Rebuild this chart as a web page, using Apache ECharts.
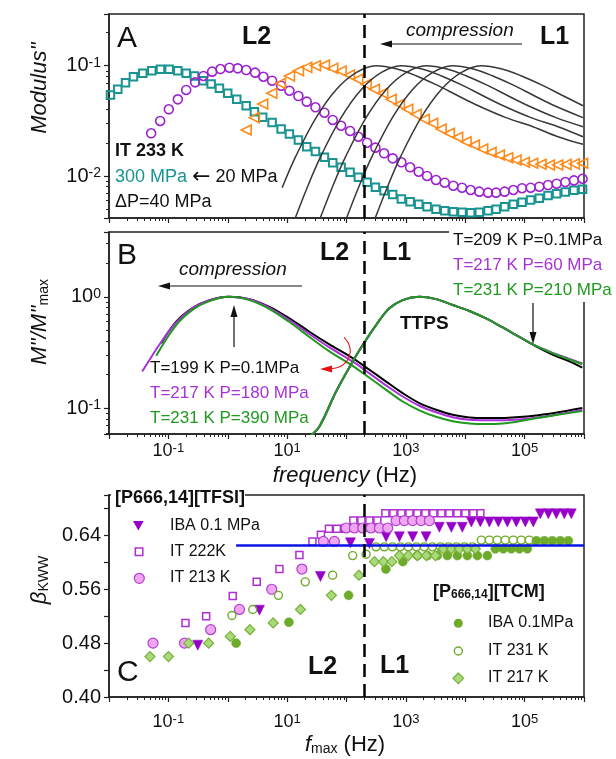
<!DOCTYPE html>
<html>
<head>
<meta charset="utf-8">
<script src="https://cdn.jsdelivr.net/npm/echarts@6/dist/echarts.min.js"></script>
<style>
html, body { margin: 0; padding: 0; background: #fff; }
#chart { width: 616px; height: 759px; }
</style>
</head>
<body>
<div id="chart"></div>
<script>
// all frequencies and log-axis values are stored as log10 exponents
// ---- panel A : Modulus'' vs frequency, IT 233 K
var aTealF = [-1.975,-1.852,-1.722,-1.588,-1.431,-1.279,-1.133,-0.987,-0.841,-0.700,-0.561,-0.421,-0.280,-0.140,0,0.152,0.310,0.449,0.589,0.747,0.899,1.039,1.190,1.330,1.477,1.628,1.768,1.909,2.060,2.200,2.347,2.487,2.633,2.778,2.924,3.071,3.216,3.357,3.508,3.654,3.800,3.946,4.091,4.237,4.384,4.519,4.663,4.810,4.956,5.101,5.247,5.394,5.539,5.685,5.830,5.976];
var aTealM = [-1.266,-1.214,-1.154,-1.100,-1.069,-1.045,-1.033,-1.033,-1.045,-1.069,-1.093,-1.136,-1.166,-1.205,-1.250,-1.305,-1.362,-1.417,-1.468,-1.516,-1.574,-1.619,-1.674,-1.734,-1.779,-1.831,-1.879,-1.921,-1.967,-2.012,-2.057,-2.102,-2.133,-2.169,-2.208,-2.233,-2.257,-2.278,-2.302,-2.315,-2.324,-2.329,-2.333,-2.329,-2.315,-2.302,-2.278,-2.257,-2.239,-2.218,-2.202,-2.178,-2.160,-2.145,-2.130,-2.120];
var aPurpleF = [-1.290,-1.138,-0.993,-0.841,-0.700,-0.549,-0.409,-0.263,-0.123,0.029,0.168,0.310,0.461,0.601,0.747,0.899,1.039,1.190,1.330,1.477,1.628,1.768,1.909,2.060,2.200,2.347,2.487,2.633,2.778,2.924,3.071,3.216,3.357,3.508,3.654,3.800,3.946,4.091,4.237,4.384,4.519,4.663,4.810,4.956,5.101,5.247,5.394,5.539,5.685,5.830,5.976];
var aPurpleM = [-1.613,-1.501,-1.395,-1.305,-1.220,-1.151,-1.093,-1.054,-1.030,-1.018,-1.024,-1.039,-1.063,-1.100,-1.136,-1.181,-1.227,-1.275,-1.326,-1.377,-1.426,-1.492,-1.544,-1.592,-1.644,-1.698,-1.743,-1.794,-1.840,-1.876,-1.921,-1.961,-2.000,-2.036,-2.061,-2.088,-2.106,-2.127,-2.142,-2.151,-2.151,-2.142,-2.127,-2.111,-2.106,-2.097,-2.082,-2.070,-2.055,-2.040,-2.025];
var aOrangeF = [0.310,0.449,0.589,0.741,0.887,1.039,1.190,1.330,1.477,1.628,1.768,1.909,2.049,2.189,2.330,2.470,2.610,2.751,2.891,3.030,3.172,3.311,3.451,3.593,3.732,3.872,4.013,4.153,4.293,4.434,4.574,4.714,4.855,4.995,5.135,5.276,5.416,5.556,5.697,5.837,5.977];
var aOrangeM = [-1.583,-1.471,-1.347,-1.250,-1.160,-1.093,-1.045,-1.015,-1.000,-0.994,-1.024,-1.048,-1.084,-1.123,-1.169,-1.214,-1.250,-1.305,-1.350,-1.395,-1.441,-1.486,-1.522,-1.574,-1.613,-1.649,-1.689,-1.719,-1.755,-1.785,-1.810,-1.834,-1.855,-1.876,-1.885,-1.894,-1.900,-1.900,-1.895,-1.890,-1.885];
var aBlackF = [
    [0.916,1.151,1.488,1.825,2.161,2.498,2.835,3.171,3.508,3.845,4.182,4.687,5.141,5.562,5.983],
    [1.101,1.337,1.572,1.909,2.246,2.582,2.919,3.256,3.592,3.929,4.266,4.603,5.108,5.562,5.983],
    [1.522,1.758,1.993,2.330,2.667,3.003,3.340,3.677,4.013,4.350,4.687,5.024,5.529,5.983],
    [1.965,2.201,2.436,2.773,3.110,3.446,3.783,4.120,4.456,4.793,5.130,5.467,5.983],
    [2.448,2.684,2.919,3.256,3.593,3.929,4.266,4.603,4.939,5.276,5.613,5.983]
];
var aBlackM = [
    [-2.106,-1.816,-1.471,-1.218,-1.063,-1.000,-1.027,-1.091,-1.172,-1.263,-1.354,-1.471,-1.553,-1.644,-1.713],
    [-2.432,-2.106,-1.816,-1.471,-1.218,-1.063,-1.000,-1.027,-1.091,-1.172,-1.263,-1.354,-1.471,-1.553,-1.644],
    [-2.432,-2.106,-1.816,-1.471,-1.218,-1.063,-1.000,-1.027,-1.091,-1.172,-1.263,-1.354,-1.471,-1.553],
    [-2.432,-2.106,-1.816,-1.471,-1.218,-1.063,-1.000,-1.027,-1.091,-1.172,-1.263,-1.354,-1.471],
    [-2.432,-2.106,-1.816,-1.471,-1.218,-1.063,-1.000,-1.027,-1.091,-1.172,-1.263,-1.363]
];

// ---- panel B : normalised M''
var bBlackLowF = [-1.121,-0.869,-0.589,-0.308,0.020,0.365,0.702,1.039,1.375,1.712,2.104,2.386,2.667,2.946,3.227,3.508,3.788,4.069,4.350,4.630,4.911,5.192,5.500,5.971];
var bBlackLowM = [-0.418,-0.224,-0.099,-0.030,0,-0.021,-0.090,-0.194,-0.314,-0.428,-0.552,-0.656,-0.762,-0.866,-0.955,-1.015,-1.060,-1.084,-1.090,-1.090,-1.081,-1.066,-1.045,-1.000];
var bPurpleLowF = [-1.441,-1.121,-0.869,-0.589,-0.308,0.020,0.365,0.702,1.039,1.375,1.712,2.104,2.386,2.667,2.946,3.227,3.508,3.788,4.069,4.350,4.630,4.911,5.192,5.500,5.971];
var bPurpleLowM = [-0.672,-0.406,-0.231,-0.101,-0.032,0,-0.023,-0.099,-0.209,-0.334,-0.455,-0.581,-0.688,-0.796,-0.896,-0.979,-1.038,-1.082,-1.105,-1.109,-1.109,-1.102,-1.087,-1.063,-1.015];
var bGreenLowF = [-1.205,-0.869,-0.589,-0.308,0.020,0.365,0.702,1.039,1.375,1.712,2.104,2.386,2.667,2.946,3.227,3.508,3.788,4.069,4.350,4.630,4.911,5.192,5.500,5.971];
var bGreenLowM = [-0.529,-0.254,-0.115,-0.039,0,-0.030,-0.110,-0.227,-0.361,-0.491,-0.621,-0.728,-0.836,-0.941,-1.020,-1.078,-1.118,-1.138,-1.143,-1.138,-1.118,-1.091,-1.065,-1.027];
var bHighF = [1.375,1.544,1.825,2.104,2.273,2.498,2.722,2.946,3.227,3.508,3.788,4.069,4.350,4.630,4.911,5.192,5.500,5.753,5.971];
var bHighBlackM = [-1.257,-1.165,-0.851,-0.582,-0.433,-0.254,-0.104,-0.030,0,-0.021,-0.074,-0.128,-0.195,-0.276,-0.361,-0.445,-0.527,-0.581,-0.636];
var bHighPurpleM = [-1.257,-1.165,-0.851,-0.582,-0.433,-0.254,-0.104,-0.030,0,-0.021,-0.074,-0.128,-0.195,-0.276,-0.361,-0.442,-0.510,-0.558,-0.600];
var bHighGreenM = [-1.257,-1.165,-0.851,-0.582,-0.433,-0.254,-0.104,-0.030,0,-0.021,-0.074,-0.128,-0.195,-0.276,-0.361,-0.442,-0.513,-0.563,-0.606];

// ---- panel C : beta_KWW vs f_max
var cIbaTfsiF = [-0.505,0.534,1.561,2.066,2.386,2.667,2.891,3.115,3.340,3.564,3.766,3.951,4.103,4.254,4.406,4.557,4.709,4.860,5.012,5.146,5.264,5.399,5.534,5.668,5.786];
var cIbaTfsiB = [0.477,0.529,0.579,0.629,0.628,0.638,0.638,0.638,0.638,0.652,0.652,0.652,0.660,0.660,0.660,0.660,0.660,0.660,0.660,0.660,0.672,0.672,0.672,0.672,0.672];
var cIt222F = [-0.712,-0.364,0.084,0.488,0.870,1.207,1.426,1.569,1.704,1.838,1.973,2.116,2.251,2.386,2.520,2.655,2.790,2.924,3.059,3.194,3.328,3.463,3.598,3.732,3.867,4.002,4.136,4.254];
var cIt222B = [0.510,0.520,0.550,0.571,0.590,0.611,0.631,0.641,0.650,0.650,0.650,0.662,0.662,0.662,0.662,0.673,0.673,0.673,0.673,0.673,0.673,0.673,0.673,0.673,0.673,0.673,0.673,0.673];
var cIt213F = [-1.259,-0.729,-0.288,0.197,0.741,1.249,1.611,1.796,1.993,2.133,2.273,2.414,2.554,2.694,2.835,2.975,3.114,3.256,3.396];
var cIt213B = [0.480,0.480,0.500,0.530,0.560,0.590,0.631,0.631,0.651,0.651,0.651,0.651,0.651,0.651,0.662,0.662,0.662,0.662,0.662];
var cIbaTcmF = [0.141,1.030,2.035,2.663,2.949,3.194,3.362,3.530,3.699,3.867,4.035,4.204,4.372,4.507,4.641,4.776,4.911,5.045,5.197,5.332,5.466,5.601,5.736];
var cIbaTcmB = [0.480,0.511,0.551,0.590,0.601,0.610,0.610,0.610,0.610,0.610,0.610,0.610,0.610,0.620,0.620,0.620,0.620,0.620,0.632,0.632,0.632,0.632,0.632];
var cIt231F = [0.071,0.421,0.854,1.305,1.766,2.104,2.330,2.498,2.638,2.773,2.907,3.042,3.177,3.311,3.446,3.581,3.715,3.850,3.985,4.119,4.271,4.406,4.540,4.675,4.810,4.944,5.079];
var cIt231B = [0.521,0.530,0.551,0.571,0.581,0.610,0.612,0.623,0.623,0.623,0.623,0.623,0.623,0.623,0.623,0.623,0.623,0.623,0.623,0.623,0.633,0.633,0.633,0.633,0.633,0.633,0.633];
var cIt217F = [-1.310,-0.998,-0.657,-0.322,0.042,0.374,0.766,1.224,1.746,2.209,2.470,2.621,2.764,2.891,3.042,3.194,3.345,3.497,3.631,3.766,3.901,4.035,4.170];
var cIt217B = [0.460,0.460,0.480,0.480,0.490,0.500,0.510,0.530,0.551,0.581,0.601,0.601,0.601,0.610,0.610,0.610,0.610,0.610,0.620,0.620,0.620,0.620,0.620];
var cBlueF = [0.141, 6];
var cBlueB = [0.625, 0.625];

var boundaryHz = 200;

var FONT = 'Liberation Sans';
var AX = '#222';
var TEAL = '#1a9393', PURPLE = '#9d22cf', ORANGE = '#ff8a1a';
var BPURPLE = '#a832d8', BGREEN = '#1f9a1f';
var CVIOLET = '#9600c8', CGREEN = '#6fab2b';

function logPairs(fx, fy) {
    return fx.map(function (f, i) { return [Math.pow(10, f), Math.pow(10, fy[i])]; });
}
function linPairs(fx, vy) {
    return fx.map(function (f, i) { return [Math.pow(10, f), vy[i]]; });
}

function decadeLabel(oddOnly) {
    return function (v) {
        var e = Math.log10(v);
        var r = Math.round(e);
        if (Math.abs(e - r) > 1e-6) return '';
        if (oddOnly && Math.abs(r % 2) !== 1) return '';
        return '{b|10}{s|' + r + '}';
    };
}
var supRich = {
    b: { fontSize: 18, fontFamily: FONT, color: '#111' },
    s: { fontSize: 13, fontFamily: FONT, color: '#111', verticalAlign: 'top' }
};
var supRichY = {
    b: { fontSize: 20, fontFamily: FONT, color: '#111' },
    s: { fontSize: 14, fontFamily: FONT, color: '#111', verticalAlign: 'top' }
};

function freqAxis(idx, showLabel, margin) {
    return {
        gridIndex: idx, type: 'log', logBase: 10, min: 0.01, max: 1e6,
        axisLine: { show: true, lineStyle: { color: AX, width: 1.5 } },
        axisTick: { show: true, length: 5, lineStyle: { color: AX, width: 1.2 } },
        minorTick: { show: true, splitNumber: 9, length: 3, lineStyle: { color: AX, width: 1 } },
        splitLine: { show: false },
        axisLabel: { show: showLabel, margin: margin, formatter: decadeLabel(true), rich: supRich }
    };
}
function logYAxis(idx, lo, hi) {
    return {
        gridIndex: idx, type: 'log', logBase: 10, min: Math.pow(10, lo), max: Math.pow(10, hi),
        axisLine: { show: true, lineStyle: { color: AX, width: 1.5 } },
        axisTick: { show: true, length: 5, lineStyle: { color: AX, width: 1.2 } },
        minorTick: { show: true, splitNumber: 9, length: 3, lineStyle: { color: AX, width: 1 } },
        splitLine: { show: false },
        axisLabel: { margin: 8, formatter: decadeLabel(false), rich: supRichY }
    };
}

var dashLine = {
    silent: true, symbol: 'none', animation: false,
    label: { show: false },
    lineStyle: { color: '#000', width: 2.5, type: [13, 7] },
    data: [{ xAxis: boundaryHz }]
};

function curve(name, xi, data, color, width) {
    return {
        name: name, type: 'line', xAxisIndex: xi, yAxisIndex: xi, data: data,
        showSymbol: false, symbol: 'none', smooth: 0.35, clip: true,
        lineStyle: { color: color, width: width }
    };
}
function marks(name, xi, data, symbol, size, rotate, fill, stroke, bw) {
    return {
        name: name, type: 'scatter', xAxisIndex: xi, yAxisIndex: xi, data: data,
        symbol: symbol, symbolSize: size, symbolRotate: rotate,
        itemStyle: { color: fill, borderColor: stroke, borderWidth: bw, opacity: 1 }
    };
}

var series = [];
// panel A
aBlackF.forEach(function (fx, i) {
    series.push(curve('P' + i, 0, logPairs(fx, aBlackM[i]), '#383838', 1.5));
});
var teal = marks('300 MPa', 0, logPairs(aTealF, aTealM), 'rect', 7.5, 0, 'rgba(0,0,0,0)', TEAL, 2);
teal.markLine = dashLine;
series.push(teal);
series.push(marks('purple', 0, logPairs(aPurpleF, aPurpleM), 'circle', 9, 0, 'rgba(0,0,0,0)', PURPLE, 1.6));
series.push(marks('orange', 0, logPairs(aOrangeF, aOrangeM), 'triangle', 10, 90, 'rgba(0,0,0,0)', ORANGE, 1.6));

// panel B
var bb = curve('T=199 K P=0.1MPa', 1, logPairs(bBlackLowF, bBlackLowM), '#000', 2);
bb.markLine = dashLine;
series.push(bb);
series.push(curve('T=217 K P=180 MPa', 1, logPairs(bPurpleLowF, bPurpleLowM), BPURPLE, 2));
series.push(curve('T=231 K P=390 MPa', 1, logPairs(bGreenLowF, bGreenLowM), BGREEN, 2));
series.push(curve('T=209 K P=0.1MPa', 1, logPairs(bHighF, bHighBlackM), '#000', 2));
series.push(curve('T=217 K P=60 MPa', 1, logPairs(bHighF, bHighPurpleM), BPURPLE, 2));
series.push(curve('T=231 K P=210 MPa', 1, logPairs(bHighF, bHighGreenM), BGREEN, 2));

// panel C
series.push(marks('IBA TFSI', 2, linPairs(cIbaTfsiF, cIbaTfsiB), 'triangle', 10, 180, CVIOLET, CVIOLET, 0.5));
series.push(marks('IT 222K', 2, linPairs(cIt222F, cIt222B), 'rect', 7, 0, 'rgba(0,0,0,0)', '#b02ed2', 1.5));
series.push(marks('IT 213 K', 2, linPairs(cIt213F, cIt213B), 'circle', 10, 0, '#f0a6f0', '#b040d0', 1.2));
series.push(marks('IBA TCM', 2, linPairs(cIbaTcmF, cIbaTcmB), 'circle', 9, 0, CGREEN, CGREEN, 0.5));
series.push(marks('IT 231 K', 2, linPairs(cIt231F, cIt231B), 'circle', 8, 0, 'rgba(0,0,0,0)', CGREEN, 1.4));
series.push(marks('IT 217 K', 2, linPairs(cIt217F, cIt217B), 'diamond', 10, 0, '#a9d978', '#76b03a', 1.2));
var blue = curve('fit', 2, linPairs(cBlueF, cBlueB), '#0a14e6', 2.5);
blue.smooth = false;
blue.markLine = dashLine;
series.push(blue);

// ---- annotations
function txt(x, y, s, o) {
    var st = { text: s, fill: '#111', fontSize: 18, fontFamily: FONT,
        align: 'left', verticalAlign: 'middle', textAlign: 'left', textVerticalAlign: 'middle' };
    for (var k in o) st[k] = o[k];
    return { type: 'text', x: x, y: y, z: 100, style: st };
}
function arrow(x1, y1, x2, y2, color) {
    var dx = x2 - x1, dy = y2 - y1, L = Math.sqrt(dx * dx + dy * dy);
    var ux = dx / L, uy = dy / L, hl = 12, hw = 3.5;
    var bx = x2 - ux * hl, by = y2 - uy * hl;
    return [
        { type: 'line', z: 100, shape: { x1: x1, y1: y1, x2: bx, y2: by }, style: { stroke: color, lineWidth: 1.2 } },
        { type: 'polygon', z: 100, shape: { points: [[x2, y2], [bx - uy * hw, by + ux * hw], [bx + uy * hw, by - ux * hw]] }, style: { fill: color } }
    ];
}
var axisNameRich = {
    i: { fontStyle: 'italic', fontSize: 22, fontFamily: FONT, fill: '#111' },
    n: { fontSize: 22, fontFamily: FONT, fill: '#111' },
    s: { fontSize: 14, fontFamily: FONT, fill: '#111', verticalAlign: 'bottom' }
};

var graphics = [
    // white patches where labels break the frame
    { type: 'rect', z: 50, shape: { x: 449, y: 226, width: 167, height: 76 }, style: { fill: '#fff' } },
    { type: 'rect', z: 50, shape: { x: 111, y: 488, width: 134, height: 15 }, style: { fill: '#fff' } },

    // axis names
    { type: 'text', x: 40, y: 88, rotation: Math.PI / 2, z: 100,
      style: { text: "Modulus''", fontStyle: 'italic', fontSize: 22, fontFamily: FONT, fill: '#111',
               align: 'center', verticalAlign: 'middle', textAlign: 'center', textVerticalAlign: 'middle' } },
    { type: 'text', x: 40, y: 322, rotation: Math.PI / 2, z: 100,
      style: { text: "{i|M''/M''}{s|max}", rich: axisNameRich,
               align: 'center', verticalAlign: 'middle', textAlign: 'center', textVerticalAlign: 'middle' } },
    { type: 'text', x: 40, y: 580, rotation: Math.PI / 2, z: 100,
      style: { text: '{i|\u03b2}{s|KWW}', rich: axisNameRich,
               align: 'center', verticalAlign: 'middle', textAlign: 'center', textVerticalAlign: 'middle' } },
    { type: 'text', x: 345, y: 476, z: 100,
      style: { text: '{i|frequency}{n| (Hz)}', rich: axisNameRich,
               align: 'center', verticalAlign: 'middle', textAlign: 'center', textVerticalAlign: 'middle' } },
    { type: 'text', x: 345, y: 745, z: 100,
      style: { text: '{i|f}{s|max}{n| (Hz)}', rich: axisNameRich,
               align: 'center', verticalAlign: 'middle', textAlign: 'center', textVerticalAlign: 'middle' } },

    // panel A
    txt(117, 39, 'A', { fontSize: 30 }),
    txt(242, 37, 'L2', { fontSize: 25, fontWeight: 'bold' }),
    txt(540, 37, 'L1', { fontSize: 25, fontWeight: 'bold' }),
    txt(406, 31, 'compression', { fontSize: 19, fontStyle: 'italic' }),
    txt(115, 151, 'IT 233 K', { fontSize: 18, fontWeight: 'bold' }),
    txt(115, 177, '{t|300 MPa}{k| }{a|\u2190}{k| 20 MPa}', { rich: {
        t: { fontSize: 18, fontFamily: FONT, fill: TEAL },
        a: { fontSize: 22, fontFamily: 'DejaVu Sans', fill: '#111' },
        k: { fontSize: 18, fontFamily: FONT, fill: '#111' } } }),
    txt(115, 202, '\u0394P=40 MPa', { fontSize: 18 }),

    // panel B
    txt(117, 256, 'B', { fontSize: 30 }),
    txt(320, 253, 'L2', { fontSize: 25, fontWeight: 'bold' }),
    txt(382, 253, 'L1', { fontSize: 25, fontWeight: 'bold' }),
    txt(179, 270, 'compression', { fontSize: 19, fontStyle: 'italic' }),
    txt(400, 324, 'TTPS', { fontSize: 19, fontWeight: 'bold' }),
    txt(453, 240, 'T=209 K P=0.1MPa', { fontSize: 17, fill: '#111' }),
    txt(453, 265, 'T=217 K P=60 MPa', { fontSize: 17, fill: BPURPLE }),
    txt(453, 290, 'T=231 K P=210 MPa', { fontSize: 17, fill: BGREEN }),
    txt(150, 368, 'T=199 K P=0.1MPa', { fontSize: 17, fill: '#111' }),
    txt(150, 393, 'T=217 K P=180 MPa', { fontSize: 17, fill: BPURPLE }),
    txt(150, 418, 'T=231 K P=390 MPa', { fontSize: 17, fill: BGREEN }),
    { type: 'bezierCurve', z: 100,
      shape: { x1: 344, y1: 337, cpx1: 356, cpy1: 350, cpx2: 350, cpy2: 367, x2: 331, y2: 369 },
      style: { stroke: '#e81010', lineWidth: 1.1, fill: null } },
    { type: 'polygon', z: 100, shape: { points: [[320, 369], [332, 365.5], [332, 372.5]] }, style: { fill: '#e81010' } },

    // panel C
    txt(115, 498, '[P666,14][TFSI]', { fontSize: 18, fontWeight: 'bold' }),
    { type: 'polygon', z: 100, shape: { points: [[133, 521], [143.6, 521], [138.3, 530.5]] }, style: { fill: CVIOLET } },
    { type: 'rect', z: 100, shape: { x: 135.3, y: 548, width: 7.5, height: 7.5 }, style: { fill: null, stroke: '#b02ed2', lineWidth: 1.5 } },
    { type: 'circle', z: 100, shape: { cx: 139.3, cy: 578.3, r: 5 }, style: { fill: '#f0a6f0', stroke: '#b040d0', lineWidth: 1.2 } },
    txt(170, 526, 'IBA 0.1 MPa', { fontSize: 16 }),
    txt(170, 552, 'IT 222K', { fontSize: 16 }),
    txt(170, 578, 'IT 213 K', { fontSize: 16 }),
    txt(117, 673, 'C', { fontSize: 30 }),
    txt(308, 667, 'L2', { fontSize: 25, fontWeight: 'bold' }),
    txt(380, 666, 'L1', { fontSize: 25, fontWeight: 'bold' }),
    txt(433, 592, '{b|[P}{s|666,14}{b|][TCM]}', { rich: {
        b: { fontSize: 18, fontWeight: 'bold', fontFamily: FONT, fill: '#111' },
        s: { fontSize: 12, fontWeight: 'bold', fontFamily: FONT, fill: '#111', verticalAlign: 'bottom' } } }),
    { type: 'circle', z: 100, shape: { cx: 458.3, cy: 623.3, r: 4.5 }, style: { fill: CGREEN } },
    { type: 'circle', z: 100, shape: { cx: 458.3, cy: 651, r: 4 }, style: { fill: null, stroke: CGREEN, lineWidth: 1.4 } },
    { type: 'polygon', z: 100, shape: { points: [[458.3, 673], [463.6, 678.3], [458.3, 683.6], [453, 678.3]] }, style: { fill: '#a9d978', stroke: '#76b03a', lineWidth: 1.2 } },
    txt(488, 623, 'IBA 0.1MPa', { fontSize: 16 }),
    txt(488, 651, 'IT 231 K', { fontSize: 16 }),
    txt(488, 678, 'IT 217 K', { fontSize: 16 })
];
graphics = graphics.concat(arrow(522, 44, 380, 44, '#111'));
graphics = graphics.concat(arrow(302, 286, 158, 286, '#111'));
graphics = graphics.concat(arrow(234, 347, 234, 305, '#111'));
graphics = graphics.concat(arrow(533, 303, 533, 344, '#111'));

var chart = echarts.init(document.getElementById('chart'), null, { renderer: 'canvas' });
var option = {
    animation: false,
    backgroundColor: '#fff',
    textStyle: { fontFamily: FONT },
    grid: [
        { left: 109, top: 14, width: 475, height: 204, show: true, borderColor: AX, borderWidth: 1.5, containLabel: false },
        { left: 109, top: 232, width: 475, height: 202, show: true, borderColor: AX, borderWidth: 1.5, containLabel: false },
        { left: 109, top: 495, width: 475, height: 202, show: true, borderColor: AX, borderWidth: 1.5, containLabel: false }
    ],
    xAxis: [freqAxis(0, false, 6), freqAxis(1, true, 8), freqAxis(2, true, 16)],
    yAxis: [
        logYAxis(0, -2.381, -0.531),
        logYAxis(1, -1.233, 0.582),
        {
            gridIndex: 2, type: 'value', min: 0.40, max: 0.70, interval: 0.04,
            axisLine: { show: true, lineStyle: { color: AX, width: 1.5 } },
            axisTick: { show: true, length: 5, lineStyle: { color: AX, width: 1.2 } },
            splitLine: { show: false },
            axisLabel: {
                margin: 8, fontSize: 20, fontFamily: FONT, color: '#111',
                formatter: function (v) {
                    var k = v / 0.08;
                    if (Math.abs(k - Math.round(k)) > 1e-6) return '';
                    return v.toFixed(2);
                }
            }
        }
    ],
    series: series,
    graphic: { elements: graphics }
};
chart.setOption(option);
</script>
</body>
</html>
